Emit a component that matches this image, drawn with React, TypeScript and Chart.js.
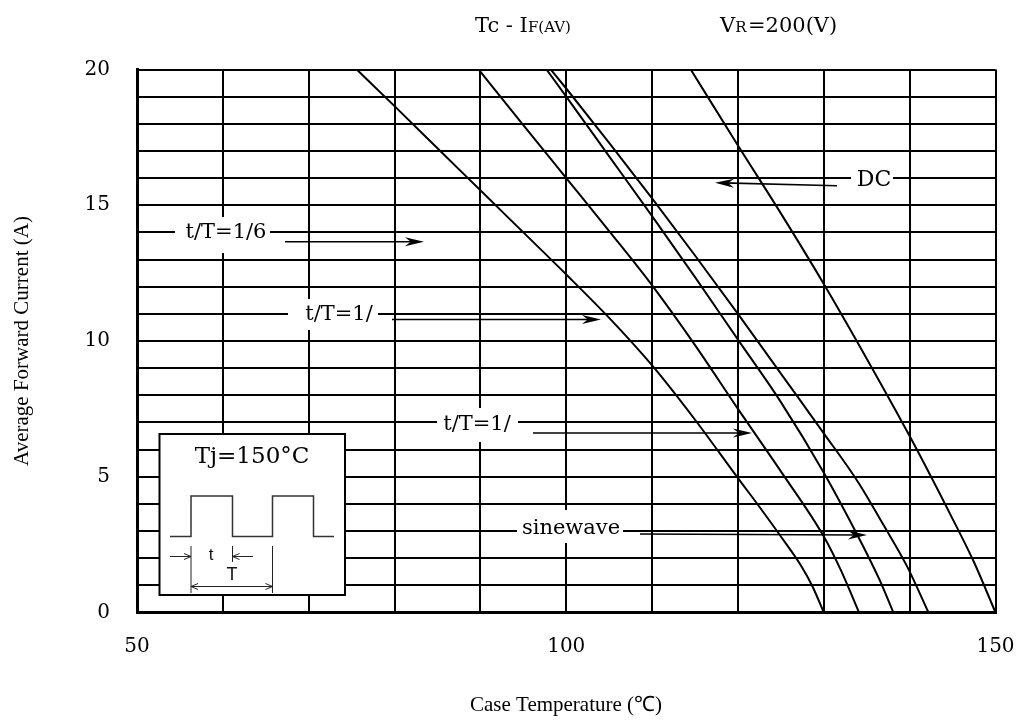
import React, { useEffect, useRef } from "react";
import { Chart, registerables } from "chart.js";

Chart.register(...registerables);

// ---- axis ticks ----
const xTickLabels = [50, 100, 150];
const yTickLabels = [0, 5, 10, 15, 20];

// ---- series (case temperature °C, average forward current A) ----
const seriesLabels = ["t/T=1/6", "t/T=1/3", "t/T=1/2", "sinewave", "DC"];

const duty16Temp = [75.6, 80, 85, 90, 95, 100, 105, 110, 115, 120, 122.6, 125, 127.3, 128.7, 130];
const duty16Current = [20, 18.65, 17.1, 15.55, 14.0, 12.45, 10.85, 9.1, 7.1, 4.95, 3.85, 2.8, 1.75, 0.95, 0];

const duty13Temp = [89.8, 95, 100, 105, 110, 115, 120, 125, 130, 132, 134.1];
const duty13Current = [20, 17.95, 16.0, 14.05, 12.05, 9.85, 7.5, 5.2, 2.8, 1.55, 0];

const duty12Temp = [97.7, 100, 105, 110, 115, 120, 125, 130, 134, 136.5, 138.1];
const duty12Current = [20, 19.0, 16.8, 14.6, 12.35, 10.05, 7.75, 5.15, 2.8, 1.2, 0];

const sineTemp = [98.2, 100, 105, 110, 115, 120, 125, 130, 134, 137, 139.7, 142.2];
const sineCurrent = [20, 19.3, 17.3, 15.25, 13.15, 11.0, 8.8, 6.6, 4.8, 3.2, 1.7, 0];

const dcTemp = [114.5, 120, 125, 130, 135, 140, 145, 147.5, 150];
const dcCurrent = [20, 17.2, 14.7, 12.1, 9.35, 6.5, 3.45, 1.85, 0];

const seriesTemps = [duty16Temp, duty13Temp, duty12Temp, sineTemp, dcTemp];
const seriesCurrents = [duty16Current, duty13Current, duty12Current, sineCurrent, dcCurrent];

const SERIF = '"DejaVu Serif", serif';
const TIMES = '"Liberation Serif", serif';

function arrowFilled(ctx: CanvasRenderingContext2D, x1: number, y1: number, x2: number, y2: number) {
  const ang = Math.atan2(y2 - y1, x2 - x1);
  const len = 19;
  const hw = 4.5;
  ctx.save();
  ctx.strokeStyle = "#000";
  ctx.fillStyle = "#000";
  ctx.lineWidth = 1.6;
  ctx.beginPath();
  ctx.moveTo(x1, y1);
  ctx.lineTo(x2 - Math.cos(ang) * 8, y2 - Math.sin(ang) * 8);
  ctx.stroke();
  ctx.translate(x2, y2);
  ctx.rotate(ang);
  ctx.beginPath();
  ctx.moveTo(0, 0);
  ctx.lineTo(-len, -hw);
  ctx.lineTo(-len * 0.7, 0);
  ctx.lineTo(-len, hw);
  ctx.closePath();
  ctx.fill();
  ctx.restore();
}

function openHead(ctx: CanvasRenderingContext2D, x: number, y: number, dir: number) {
  ctx.beginPath();
  ctx.moveTo(x - dir * 7, y - 3);
  ctx.lineTo(x, y);
  ctx.lineTo(x - dir * 7, y + 3);
  ctx.stroke();
}

function labelBox(
  ctx: CanvasRenderingContext2D,
  text: string,
  cx: number,
  cy: number,
  box: [number, number, number, number],
  size: number
) {
  ctx.save();
  ctx.fillStyle = "#fff";
  ctx.fillRect(box[0], box[1], box[2] - box[0], box[3] - box[1]);
  ctx.fillStyle = "#000";
  ctx.font = `${size}px ${SERIF}`;
  ctx.textAlign = "center";
  ctx.textBaseline = "middle";
  ctx.fillText(text, cx, cy);
  ctx.restore();
}

const annotationPlugin = {
  id: "annotations",
  afterDraw(chart: any) {
    const ctx: CanvasRenderingContext2D = chart.ctx;
    ctx.save();

    // ---- title ----
    ctx.fillStyle = "#000";
    ctx.textBaseline = "alphabetic";
    ctx.textAlign = "left";
    ctx.font = `21px ${SERIF}`;
    ctx.fillText("Tc - I", 475, 32);
    let w = ctx.measureText("Tc - I").width;
    ctx.font = `15px ${SERIF}`;
    ctx.fillText("F(AV)", 475 + w, 32);
    ctx.font = `21px ${SERIF}`;
    ctx.fillText("V", 720, 32);
    w = ctx.measureText("V").width;
    ctx.font = `15px ${SERIF}`;
    ctx.fillText("R", 720 + w, 32);
    ctx.font = `21px ${SERIF}`;
    ctx.fillText("=200(V)", 748, 32);

    // ---- axis titles ----
    ctx.font = `21px ${TIMES}`;
    ctx.textAlign = "center";
    ctx.textBaseline = "middle";
    ctx.fillText("Case Temperature (\u2103)", 566, 705);
    ctx.save();
    ctx.translate(22, 341);
    ctx.rotate(-Math.PI / 2);
    ctx.fillText("Average Forward Current (A)", 0, 0);
    ctx.restore();

    // ---- curve labels ----
    labelBox(ctx, seriesLabels[0], 226, 233, [175, 217, 270, 253], 21);
    arrowFilled(ctx, 285, 241.7, 424, 241.7);

    labelBox(ctx, "t/T=1/", 339, 315, [288, 299, 378, 330], 21);
    arrowFilled(ctx, 392, 319.5, 601, 319.5);

    labelBox(ctx, "t/T=1/", 477, 425, [437, 408, 518, 442], 21);
    arrowFilled(ctx, 533, 433, 752, 433);

    labelBox(ctx, seriesLabels[3], 571, 529, [517, 510, 623, 543], 21);
    arrowFilled(ctx, 640, 534, 867, 535);

    labelBox(ctx, seriesLabels[4], 874, 180, [851, 166, 893, 193], 22);
    arrowFilled(ctx, 837, 185.7, 715, 182.7);

    // ---- inset ----
    ctx.fillStyle = "#fff";
    ctx.fillRect(159.5, 434, 185.5, 161);
    ctx.strokeStyle = "#000";
    ctx.lineWidth = 2;
    ctx.strokeRect(159.5, 434, 185.5, 161);

    ctx.fillStyle = "#000";
    ctx.font = `23px ${SERIF}`;
    ctx.textAlign = "center";
    ctx.textBaseline = "alphabetic";
    ctx.fillText("Tj=150\u00B0C", 252, 463);

    ctx.strokeStyle = "#333";
    ctx.lineWidth = 1.5;
    ctx.beginPath();
    ctx.moveTo(170, 536.5);
    ctx.lineTo(191, 536.5);
    ctx.lineTo(191, 496);
    ctx.lineTo(232.5, 496);
    ctx.lineTo(232.5, 536.5);
    ctx.lineTo(272.5, 536.5);
    ctx.lineTo(272.5, 496);
    ctx.lineTo(313.5, 496);
    ctx.lineTo(313.5, 536.5);
    ctx.lineTo(334, 536.5);
    ctx.stroke();

    ctx.strokeStyle = "#222";
    ctx.lineWidth = 1;
    ctx.beginPath();
    ctx.moveTo(191, 546);
    ctx.lineTo(191, 593);
    ctx.moveTo(232.5, 546);
    ctx.lineTo(232.5, 562);
    ctx.moveTo(272.5, 546);
    ctx.lineTo(272.5, 593);
    ctx.moveTo(170, 556.5);
    ctx.lineTo(191, 556.5);
    ctx.moveTo(253, 556.5);
    ctx.lineTo(232.5, 556.5);
    ctx.moveTo(191, 586.5);
    ctx.lineTo(272.5, 586.5);
    ctx.stroke();
    openHead(ctx, 191, 556.5, 1);
    openHead(ctx, 232.5, 556.5, -1);
    openHead(ctx, 191, 586.5, -1);
    openHead(ctx, 272.5, 586.5, 1);

    ctx.fillStyle = "#111";
    ctx.textAlign = "center";
    ctx.textBaseline = "middle";
    ctx.font = `17px "Liberation Sans", sans-serif`;
    ctx.fillText("t", 211, 555);
    ctx.font = `18px "Liberation Sans", sans-serif`;
    ctx.fillText("T", 232, 575);

    ctx.restore();
  },
};

export default function App() {
  const ref = useRef<HTMLCanvasElement>(null);

  useEffect(() => {
    const canvas = ref.current;
    if (!canvas) return;
    const datasets = seriesLabels.map((label, i) => ({
      label,
      data: seriesTemps[i].map((t, j) => ({ x: t, y: seriesCurrents[i][j] })),
      borderColor: "#000",
      backgroundColor: "#000",
      borderWidth: 2,
      pointRadius: 0,
      fill: false,
      cubicInterpolationMode: "monotone" as const,
    }));

    const chart = new Chart(canvas, {
      type: "line",
      data: { datasets },
      options: {
        animation: false,
        responsive: false,
        maintainAspectRatio: false,
        layout: { padding: { left: 0, right: 24.5, top: 69.5, bottom: 0 } },
        plugins: {
          legend: { display: false },
          tooltip: { enabled: false },
          title: { display: false },
        },
        scales: {
          x: {
            type: "linear",
            min: 50,
            max: 150,
            afterFit: (s: any) => {
              s.height = 110.5;
              s.paddingLeft = 0;
              s.paddingRight = 0;
            },
            ticks: {
              stepSize: 10,
              autoSkip: false,
              maxRotation: 0,
              padding: 22,
              color: "#000",
              font: { family: "DejaVu Serif", size: 20 },
              callback: (v: any) => (xTickLabels.includes(Number(v)) ? String(v) : ""),
            },
            grid: { color: "#000", lineWidth: 2, drawTicks: false },
            border: { color: "#000", width: 3 },
          },
          y: {
            type: "linear",
            min: 0,
            max: 20,
            afterFit: (s: any) => {
              s.width = 137;
              s.paddingTop = 0;
              s.paddingBottom = 0;
            },
            ticks: {
              stepSize: 1,
              autoSkip: false,
              padding: 27,
              color: "#000",
              font: { family: "DejaVu Serif", size: 20 },
              callback: (v: any) => (yTickLabels.includes(Number(v)) ? String(v) : ""),
            },
            grid: { color: "#000", lineWidth: 2, drawTicks: false },
            border: { color: "#000", width: 3 },
          },
        },
      } as any,
      plugins: [annotationPlugin],
    });
    return () => chart.destroy();
  }, []);

  return (
    <div style={{ position: "absolute", left: 0, top: 0, width: 1020, height: 723, background: "#fff" }}>
      <canvas ref={ref} width={1020} height={723} style={{ width: 1020, height: 723, display: "block" }} />
    </div>
  );
}
